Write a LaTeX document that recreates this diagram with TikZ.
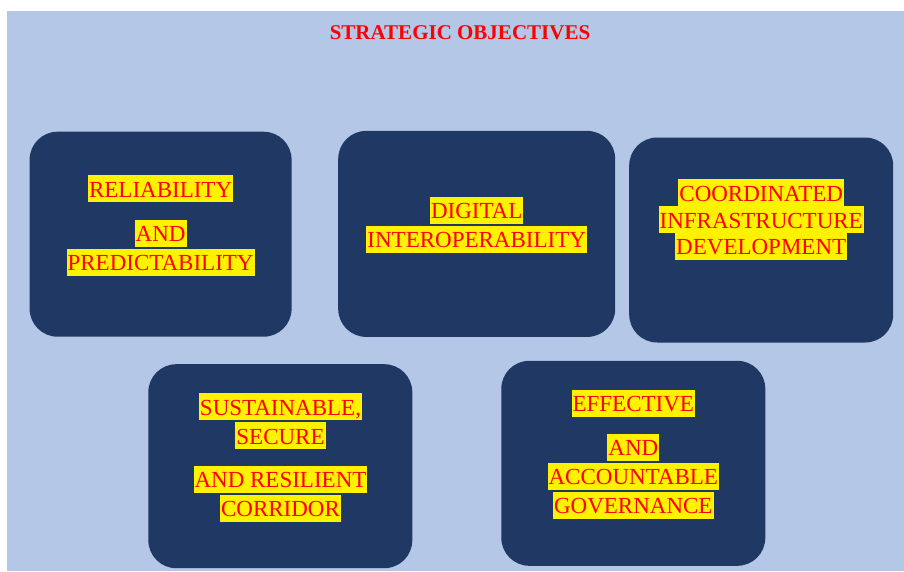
\documentclass[tikz,border=0pt]{standalone}
\usepackage{fontspec}
\setmainfont{Liberation Serif}
\usepackage{tikz}
\usetikzlibrary{positioning}
\definecolor{paleblue}{HTML}{B4C7E7}
\definecolor{navy}{HTML}{203864}

\tikzset{
  objbox/.style={rectangle, rounded corners=28pt, fill=navy, inner sep=0pt},
  hl/.style={rectangle, fill=yellow, text=red, font=\fontsize{23}{27}\selectfont,
    inner xsep=1pt, inner ysep=1pt, text height=21pt, text depth=4pt}
}

\begin{document}
\begin{tikzpicture}[x=1pt, y=-1pt]
   \useasboundingbox (0,0) rectangle (904,571);
   \fill[paleblue] (7,11) rectangle (904,571);
   \node[text=red, font=\bfseries\fontsize{21}{25}\selectfont] (title) at (460,33) {STRATEGIC OBJECTIVES};
   % the five objective boxes
   \begin{scope}[every node/.style={objbox}]
    \node[minimum width=262pt, minimum height=205pt] (rel) at (160.6,234.2) {};
    \node[minimum width=277pt, minimum height=206pt] (dig) at (476.7,233.9) {};
    \node[minimum width=264pt, minimum height=205pt] (coord) at (761.2,240) {};
    \node[minimum width=264pt, minimum height=204pt] (sus) at (280.3,466.2) {};
    \node[minimum width=264pt, minimum height=205pt] (gov) at (633.3,463.3) {};
   \end{scope}
   % highlighted captions
   \begin{scope}[every node/.style={hl}]
    \node (rel1) at (160.6,188.5) {RELIABILITY};
    \node (rel2) at (160.6,233.3) {AND};
    \node (rel3) at (160.6,262.3) {PREDICTABILITY};
    \node (dig1) at (476.7,210.3) {DIGITAL};
    \node (dig2) at (476.7,239.2) {INTEROPERABILITY};
    \node (coord1) at (761.2,192.5) {COORDINATED};
    \node (coord2) at (761.2,219.5) {INFRASTRUCTURE};
    \node (coord3) at (761.2,246.2) {DEVELOPMENT};
    \node (sus1) at (280.5,406.5) {SUSTAINABLE,};
    \node (sus2) at (280.5,435.5) {SECURE};
    \node (sus3) at (280.5,479.3) {AND RESILIENT};
    \node (sus4) at (280.5,508.2) {CORRIDOR};
    \node (gov1) at (633.3,403.3) {EFFECTIVE};
    \node (gov2) at (633.3,447.3) {AND};
    \node (gov3) at (633.3,476.2) {ACCOUNTABLE};
    \node (gov4) at (633.3,505.2) {GOVERNANCE};
   \end{scope}
\end{tikzpicture}
\end{document}
